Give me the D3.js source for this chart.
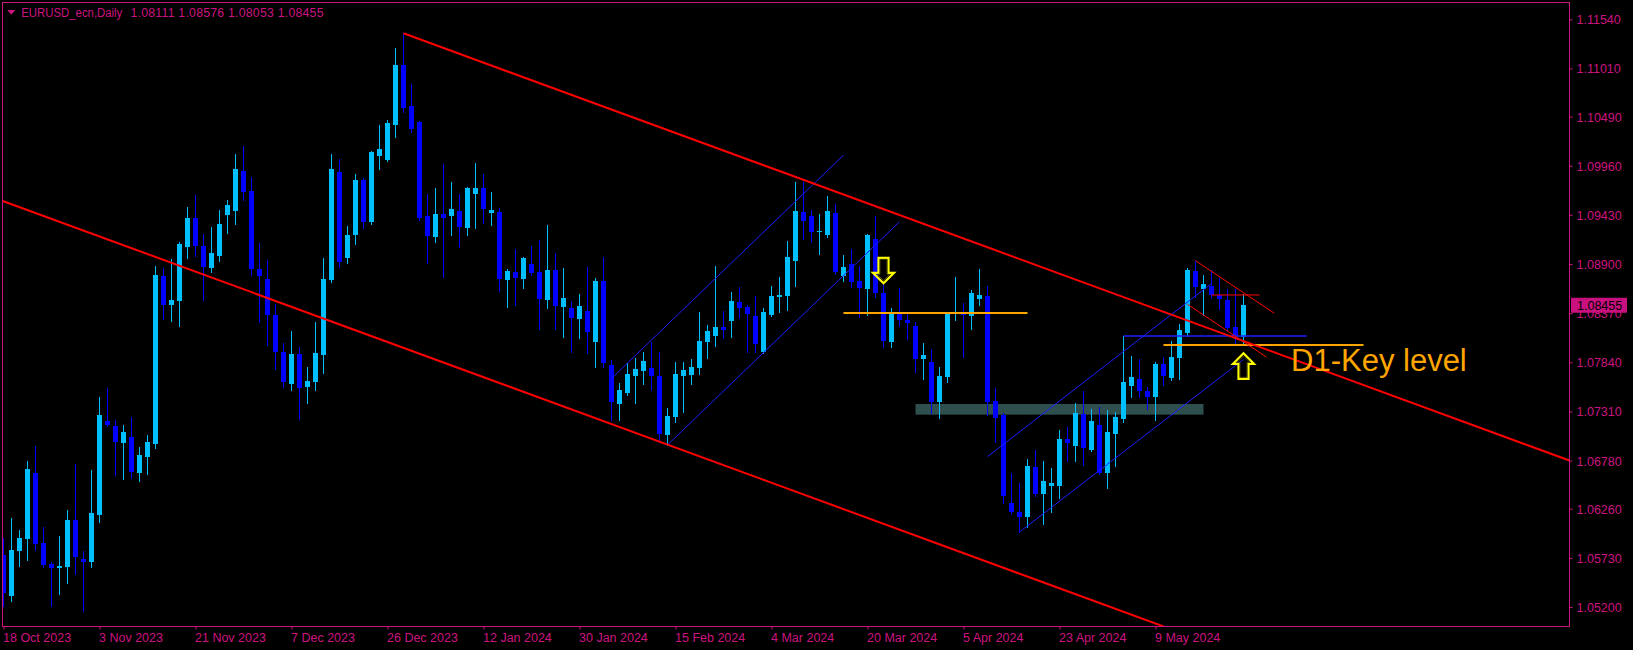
<!DOCTYPE html>
<html><head><meta charset="utf-8">
<script src="https://cdn.jsdelivr.net/npm/d3@7"></script>
<style>html,body{margin:0;padding:0;background:#000;overflow:hidden}svg{display:block}</style>
</head><body><svg id="c" width="1633" height="650"></svg>
<script>
// ---------------- DATA ----------------
const symbolTitle = "EURUSD_ecn,Daily";
const lastOHLC = [1.08111, 1.08576, 1.08053, 1.08455];
const currentPrice = 1.08455;

const open = [1.05762,1.05324,1.05803,1.05937,1.06647,1.05892,1.05661,1.05616,1.05636,1.06140,
1.05718,1.05685,1.06197,1.07207,1.07155,1.06972,1.07033,1.06647,1.06818,1.06960,
1.08770,1.08457,1.08502,1.09083,1.09395,1.09095,1.08855,1.08985,1.09428,1.09472,
1.09902,1.09687,1.08847,1.08738,1.08352,1.07950,1.07605,1.07930,1.07577,1.07629,
1.07922,1.08728,1.09893,1.08965,1.09213,1.09806,1.09350,1.10065,1.10022,1.10400,
1.11047,1.10605,1.10432,1.09418,1.09192,1.09440,1.09418,1.09472,1.09289,1.09655,
1.09720,1.09450,1.09461,1.08728,1.08814,1.08738,1.08900,1.08814,1.08512,1.08836,
1.08436,1.08426,1.08307,1.08393,1.08059,1.08717,1.07811,1.07390,1.07509,1.07692,
1.07746,1.07778,1.07692,1.07055,1.07250,1.07692,1.07703,1.07778,1.08059,1.08123,
1.08221,1.08285,1.08490,1.08436,1.08339,1.07951,1.08350,1.08544,1.08555,1.08933,
1.09461,1.09418,1.09245,1.09213,1.09450,1.08771,1.08900,1.08717,1.08631,1.09170,
1.08587,1.08059,1.08361,1.08296,1.08231,1.07875,1.07843,1.07412,1.07681,1.08361,
1.08368,1.08343,1.08523,1.08555,1.07422,1.07271,1.06322,1.06225,1.06171,1.06710,
1.06419,1.06505,1.06505,1.07012,1.06937,1.07282,1.06894,1.07163,1.06646,1.07066,
1.07228,1.07584,1.07656,1.07526,1.07469,1.07821,1.07670,1.07886,1.08156,1.08825,
1.08634,1.08663,1.08566,1.08512,1.08217,1.08111];
const high = [1.05945,1.06156,1.06026,1.06777,1.06935,1.06059,1.05681,1.05965,1.06245,1.06745,
1.05799,1.06680,1.07467,1.07565,1.07219,1.07163,1.07248,1.06927,1.07057,1.08880,
1.08855,1.08953,1.09139,1.09517,1.09643,1.09225,1.09298,1.09484,1.09590,1.10085,
1.10174,1.09838,1.09127,1.08945,1.08474,1.08048,1.08177,1.08007,1.07788,1.08275,
1.08965,1.10087,1.10033,1.09310,1.09871,1.09828,1.10119,1.10400,1.10454,1.11230,
1.11389,1.10842,1.10443,1.09655,1.09720,1.09979,1.09785,1.09655,1.09735,1.09990,
1.09871,1.09677,1.09504,1.08846,1.09062,1.08976,1.09094,1.09159,1.09321,1.09019,
1.08857,1.08501,1.08577,1.08868,1.08749,1.08976,1.07865,1.07616,1.07832,1.07886,
1.07951,1.08059,1.07951,1.07347,1.07843,1.07843,1.07875,1.08382,1.08242,1.08879,
1.08393,1.08598,1.08652,1.08458,1.08555,1.08426,1.08663,1.08760,1.09148,1.09785,
1.09785,1.09483,1.09440,1.09634,1.09547,1.08997,1.09062,1.08879,1.09224,1.09418,
1.08684,1.08426,1.08641,1.08382,1.08275,1.08048,1.07983,1.07789,1.08372,1.08760,
1.08476,1.08620,1.08846,1.08660,1.07563,1.07293,1.06646,1.06538,1.06797,1.06894,
1.06775,1.06700,1.07109,1.07142,1.07401,1.07527,1.07336,1.07358,1.07325,1.07304,
1.08124,1.07908,1.07875,1.07577,1.07843,1.07897,1.08069,1.08253,1.08857,1.08936,
1.08785,1.08835,1.08753,1.08627,1.08630,1.08576];
const low = [1.05214,1.05267,1.05641,1.05710,1.05815,1.05632,1.05206,1.05344,1.05458,1.05559,
1.05162,1.05636,1.06120,1.07150,1.06623,1.06586,1.06594,1.06554,1.06635,1.06919,
1.08307,1.08287,1.08230,1.08969,1.08985,1.08510,1.08819,1.08936,1.09237,1.09330,
1.09594,1.08782,1.08279,1.08031,1.07772,1.07577,1.07544,1.07224,1.07406,1.07544,
1.07719,1.08710,1.08871,1.08915,1.09120,1.09292,1.09332,1.09925,1.10010,1.10270,
1.10544,1.10328,1.09378,1.08911,1.09138,1.08760,1.09213,1.09084,1.09213,1.09289,
1.09342,1.09321,1.08609,1.08436,1.08458,1.08641,1.08782,1.08199,1.08426,1.08199,
1.08113,1.07951,1.08102,1.07940,1.07789,1.07789,1.07217,1.07217,1.07487,1.07401,
1.07606,1.07541,1.07002,1.06948,1.07196,1.07304,1.07606,1.07714,1.07886,1.08016,
1.08102,1.08113,1.08318,1.07951,1.07951,1.07940,1.08340,1.08382,1.08404,1.08663,
1.09170,1.09138,1.09008,1.09191,1.08792,1.08717,1.08652,1.08328,1.08350,1.08544,
1.08005,1.08005,1.08231,1.08091,1.07735,1.07660,1.07293,1.07239,1.07627,1.08296,
1.07900,1.08199,1.08458,1.07271,1.06980,1.06318,1.06203,1.06009,1.06063,1.06397,
1.06095,1.06225,1.06376,1.06775,1.06775,1.06732,1.06883,1.06630,1.06484,1.06721,
1.07196,1.07469,1.07469,1.07339,1.07217,1.07595,1.07649,1.07660,1.08123,1.08548,
1.08354,1.08530,1.08415,1.08188,1.08037,1.08053];
const close = [1.05356,1.05815,1.05945,1.06688,1.05884,1.05649,1.05616,1.05645,1.06140,1.05742,
1.05689,1.06213,1.07272,1.07159,1.06980,1.07090,1.06655,1.06842,1.06980,1.08782,
1.08457,1.08514,1.09115,1.09395,1.09095,1.08872,1.09018,1.09330,1.09537,1.09927,
1.09675,1.08847,1.08774,1.08352,1.07954,1.07629,1.07930,1.07565,1.07638,1.07942,
1.08738,1.09925,1.08925,1.09213,1.09806,1.09357,1.10109,1.10141,1.10421,1.11047,
1.10587,1.10357,1.09400,1.09206,1.09440,1.09400,1.09494,1.09299,1.09720,1.09720,
1.09494,1.09483,1.08738,1.08825,1.08749,1.08965,1.08803,1.08523,1.08836,1.08447,
1.08533,1.08318,1.08447,1.08167,1.08717,1.07832,1.07412,1.07541,1.07714,1.07767,
1.07854,1.07692,1.07066,1.07260,1.07714,1.07757,1.07789,1.08070,1.08177,1.08221,
1.08188,1.08501,1.08426,1.08361,1.08037,1.08382,1.08555,1.08566,1.08976,1.09472,
1.09364,1.09245,1.09256,1.09472,1.08814,1.08868,1.08706,1.08641,1.09213,1.08587,
1.08070,1.08372,1.08296,1.08264,1.07875,1.07918,1.07412,1.07692,1.08369,1.08368,
1.08350,1.08587,1.08566,1.07412,1.07239,1.06397,1.06225,1.06171,1.06721,1.06419,
1.06559,1.06538,1.07012,1.06969,1.07293,1.06915,1.07207,1.06646,1.07088,1.07250,
1.07627,1.07681,1.07534,1.07469,1.07821,1.07692,1.07897,1.08188,1.08835,1.08656,
1.08688,1.08566,1.08523,1.08213,1.08127,1.08455];

const xTickBars = [0,12,24,36,48,60,72,84,96,108,120,132,144];
const xTickLabels = ["18 Oct 2023","3 Nov 2023","21 Nov 2023","7 Dec 2023","26 Dec 2023","12 Jan 2024",
  "30 Jan 2024","15 Feb 2024","4 Mar 2024","20 Mar 2024","5 Apr 2024","23 Apr 2024","9 May 2024"];
const yTicks = [1.11540,1.11010,1.10490,1.09960,1.09430,1.08900,1.08370,1.07840,1.07310,1.06780,1.06260,1.05730,1.05200];

// drawn objects: [bar index, price] anchors
const redUpper = [[50, 1.11389],[150, 1.08227]];      // ray to the right
const redLower = [[0, 1.09577],[100, 1.06414]];       // line, both directions
const blueCh1Upper = [[76, 1.07666],[105, 1.10074]];
const blueCh1Lower = [[83, 1.06948],[112, 1.09356]];
const blueCh2Upper = [[123, 1.06822],[151, 1.08690]];
const blueCh2Lower = [[127, 1.06009],[155, 1.07871]];
const blueLevel = [[140, 1.08124],[162.9, 1.08124]];
const orangeLevel1 = [[105, 1.08372],[128, 1.08372]];
const orangeLevel2 = [[145, 1.08027],[170, 1.08027]];
const thinRedUpper = [[149, 1.08936],[158.85, 1.08369]];
const thinRedLower = [[148, 1.08466],[157.9, 1.07894]];
const thinRedLevel = [[151, 1.08566],[157, 1.08566]];
const zoneRect = {from: 114, to: 150, top: 1.07390, bottom: 1.07275};
const downArrow = {bar: 110, price: 1.08692};
const upArrow = {bar: 155, price: 1.07937};
const keyLabel = {text: "D1-Key level", bar: 160.94, price: 1.07746};

// ---------------- CHART ----------------
const W = 1633, H = 650;
const plotL = 2.5, plotR = 1569.5, plotT = 2.5, plotB = 626.5;
const AX = "#cc1480";
const BULL = "#00bfff", BEAR = "#0000ff";
const FONT = "Liberation Sans, Arial, sans-serif";
const svg = d3.select("#c");
svg.append("rect").attr("width", W).attr("height", H).attr("fill", "#000");

const x = d3.scaleLinear().domain([0, 195.6875]).range([3.5, 1569]);
const y = d3.scaleLinear().domain([1.05200, 1.11540]).range([607, 19.3]);

svg.append("defs").append("clipPath").attr("id","clip")
  .append("rect").attr("x", plotL+0.5).attr("y", plotT+0.5)
  .attr("width", plotR-plotL-1).attr("height", plotB-plotT-1);
const plot = svg.append("g").attr("clip-path","url(#clip)");

// background zone
plot.append("rect")
  .attr("x", x(zoneRect.from)).attr("y", y(zoneRect.top))
  .attr("width", x(zoneRect.to)-x(zoneRect.from))
  .attr("height", y(zoneRect.bottom)-y(zoneRect.top))
  .attr("fill", "#2f4f4f");

// candles
const data = open.map((o,i)=>({i, o, h: high[i], l: low[i], c: close[i]}));
const cg = plot.append("g");
const candle = cg.selectAll("g").data(data).join("g");
candle.append("line")
  .attr("x1", d=>x(d.i)).attr("x2", d=>x(d.i))
  .attr("y1", d=>Math.round(y(d.h))).attr("y2", d=>Math.round(y(d.l))+1)
  .attr("stroke", d=>d.c>=d.o?BULL:BEAR).attr("stroke-width",1);
candle.append("rect")
  .attr("x", d=>x(d.i)-2.5).attr("width", 5)
  .attr("y", d=>Math.round(y(Math.max(d.o,d.c))))
  .attr("height", d=>Math.max(1, Math.round(y(Math.min(d.o,d.c)))-Math.round(y(Math.max(d.o,d.c)))))
  .attr("fill", d=>d.c>=d.o?BULL:BEAR);

// lines
function seg(pts, color, w, extL, extR){
  const [a,b] = pts;
  const slope = (b[1]-a[1])/(b[0]-a[0]);
  let k0 = a[0], k1 = b[0];
  if (extL) k0 = -1;
  if (extR) k1 = 200;
  plot.append("line")
    .attr("x1", x(k0)).attr("y1", y(a[1]+slope*(k0-a[0])))
    .attr("x2", x(k1)).attr("y2", y(a[1]+slope*(k1-a[0])))
    .attr("stroke", color).attr("stroke-width", w);
}
seg(blueCh1Upper, "#1e1eff", 1);
seg(blueCh1Lower, "#1e1eff", 1);
seg(blueCh2Upper, "#1e1eff", 1);
seg(blueCh2Lower, "#1e1eff", 1);
seg(blueLevel, "#1e1eff", 1.6);
seg(orangeLevel1, "#ffa500", 2);
seg(orangeLevel2, "#ffa500", 2);
seg(thinRedUpper, "#ff0000", 1);
seg(thinRedLower, "#ff0000", 1);
seg(thinRedLevel, "#ff0000", 1);
seg(redUpper, "#ff0000", 2, false, true);
seg(redLower, "#ff0000", 2, true, true);

// arrows (shape in pixels, anchored at data point)
function arrow(a, dir){
  const tx = x(a.bar), ty = y(a.price);
  const s = dir; // +1 points down (tip below), -1 points up
  const pts = [[0,0],[-10.5,-10.5*s],[-5,-10.5*s],[-5,-25.5*s],[5,-25.5*s],[5,-10.5*s],[10.5,-10.5*s]];
  const p = "M"+pts.map(q=>(tx+q[0])+","+(ty+q[1])).join("L")+"Z";
  plot.append("path").attr("d", p).attr("fill","none").attr("stroke","#ffff00").attr("stroke-width",2.2).attr("stroke-linejoin","miter");
  const pin = [[0,-2.8*s],[-6.2,-9*s],[-3.5,-9*s],[-3.5,-24*s],[3.5,-24*s],[3.5,-9*s],[6.2,-9*s]];
  plot.append("path").attr("d","M"+pin.map(q=>(tx+q[0])+","+(ty+q[1])).join("L")+"Z")
    .attr("fill","none").attr("stroke","#5a5a00").attr("stroke-width",0.8);
}
arrow(downArrow, 1);
arrow(upArrow, -1);

plot.append("text").attr("x", x(keyLabel.bar)).attr("y", y(keyLabel.price))
  .attr("fill","#ffa500").attr("font-family",FONT)
  .attr("font-size", 31).text(keyLabel.text);

// frame
svg.append("rect").attr("x",plotL).attr("y",plotT).attr("width",plotR-plotL).attr("height",plotB-plotT)
  .attr("fill","none").attr("stroke",AX).attr("stroke-width",1);

// y axis
const yAxis = svg.append("g").attr("transform",`translate(${plotR},0)`)
  .call(d3.axisRight(y).tickValues(yTicks).tickFormat(d3.format(".5f")).tickSize(3).tickPadding(4));
yAxis.select(".domain").remove();
yAxis.selectAll("line").attr("stroke",AX);
yAxis.selectAll("text").attr("fill",AX).attr("font-family",FONT)
  .attr("font-size",12.5).attr("dy","0.36em");

// current price label
const cp = y(currentPrice);
svg.append("rect").attr("x",1571).attr("y",cp-7.5).attr("width",56).attr("height",15).attr("fill","#c8107e");
svg.append("text").attr("x",1577).attr("y",cp).attr("dy","0.36em").attr("fill","#000")
  .attr("font-family",FONT).attr("font-size",12.5)
  .text(d3.format(".5f")(currentPrice));

// x axis
const xAxis = svg.append("g").attr("transform",`translate(0,${plotB})`)
  .call(d3.axisBottom(x).tickValues(xTickBars).tickFormat((d,i)=>xTickLabels[i]).tickSize(3).tickPadding(4));
xAxis.select(".domain").remove();
xAxis.selectAll("line").attr("stroke",AX);
xAxis.selectAll("text").attr("fill",AX).attr("font-family",FONT)
  .attr("font-size",12.5).attr("text-anchor","start").attr("dx",-1).attr("y",15.5).attr("dy",0);

// title
svg.append("path").attr("d","M7.3,10L15.3,10L11.3,14.7Z").attr("fill",AX);
const title = svg.append("text").attr("y",17.3).attr("fill",AX)
  .attr("font-family",FONT).attr("font-size",12.3);
title.append("tspan").attr("x",21.3).attr("textLength",101).attr("lengthAdjust","spacingAndGlyphs").text(symbolTitle);
title.append("tspan").attr("x",130.5).attr("textLength",193).attr("lengthAdjust","spacing").text(lastOHLC.map(d3.format(".5f")).join(" "));
</script></body></html>
